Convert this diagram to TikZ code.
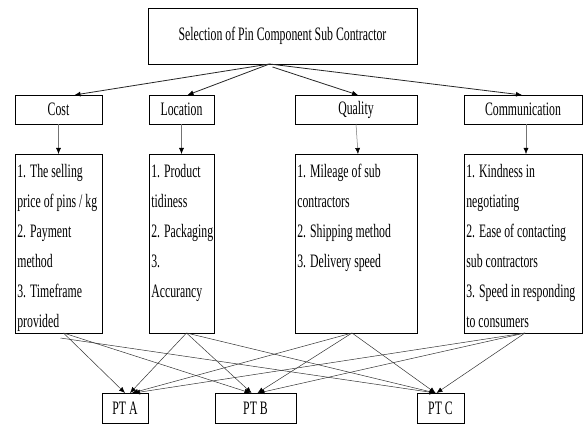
\documentclass[tikz,border=0pt]{standalone}
\usepackage{fontspec}
\setmainfont{Liberation Serif}[FakeStretch=0.62]
\usepackage{tikz}
\usetikzlibrary{arrows.meta}

\begin{document}
\begin{tikzpicture}[x=1pt,y=-1pt,line width=0.7pt]
    \tikzstyle{box}=[draw=black,rectangle,inner sep=0pt,outer sep=0pt,font=\fontsize{19}{22}\selectfont]
    \tikzstyle{criteria}=[box,minimum height=29pt]
    \tikzstyle{list}=[box,minimum height=179pt]
    \tikzstyle{listtext}=[anchor=north west,align=left,inner xsep=2pt,inner ysep=10pt,font=\fontsize{19}{30}\selectfont]
    \tikzstyle{alt}=[box,minimum height=30pt]
    \tikzstyle{top arrow}=[-{Latex[length=6pt,width=5pt,black]},line width=0.8pt,draw=black!85]
    \tikzstyle{down arrow}=[-{Latex[length=6pt,width=5pt,black]},line width=0.5pt,draw=black!55]
    \tikzstyle{alt arrow}=[-{Latex[length=6pt,width=5pt,black]},line width=0.5pt,draw=black!80]

    \useasboundingbox (0,0) rectangle (584,425);

    % Goal
    \node[box,minimum width=269pt,minimum height=56pt] (goal) at (282.5,36) {Selection of Pin Component Sub Contractor};

    % Criteria
    \node[criteria,minimum width=87pt] (cost) at (58.5,109.5) {Cost};
    \node[criteria,minimum width=65pt] (location) at (181.5,109.5) {Location};
    \node[criteria,minimum width=122pt] (quality) at (356,109.5) {Quality};
    \node[criteria,minimum width=118pt] (comm) at (523,109.5) {Communication};

    % Sub criteria
    \node[list,minimum width=87pt] (cost-list) at (58.5,243.5) {};
    \node[list,minimum width=65pt] (location-list) at (181.5,243.5) {};
    \node[list,minimum width=122pt] (quality-list) at (356,243.5) {};
    \node[list,minimum width=118pt] (comm-list) at (523,243.5) {};
    \node[listtext] (cost-text) at (cost-list.north west) {1. The selling\\price of pins / kg\\2. Payment\\method\\3. Timeframe\\provided};
    \node[listtext] (location-text) at (location-list.north west) {1. Product\\tidiness\\2. Packaging\\3.\\Accurancy};
    \node[listtext] (quality-text) at (quality-list.north west) {1. Mileage of sub\\contractors\\2. Shipping method\\3. Delivery speed};
    \node[listtext] (comm-text) at (comm-list.north west) {1. Kindness in\\negotiating\\2. Ease of contacting\\sub contractors\\3. Speed in responding\\to consumers};

    % Alternatives
    \node[alt,minimum width=46pt] (pta) at (125,408) {PT A};
    \node[alt,minimum width=81pt] (ptb) at (255.5,408) {PT B};
    \node[alt,minimum width=47pt] (ptc) at (440.5,408) {PT C};

    % Goal to criteria
    \path ([xshift=-13pt]goal.south) edge[top arrow] ([xshift=16pt]cost.north);
    \path ([xshift=-13pt]goal.south) edge[top arrow] ([xshift=6pt]location.north);
    \path ([xshift=-10pt,yshift=-3pt]goal.south) edge[top arrow] ([xshift=2pt]quality.north);
    \path ([xshift=-13pt]goal.south) edge[top arrow] ([xshift=-1pt]comm.north);

    % Criteria to sub criteria
    \path (cost.south) edge[down arrow] (cost-list.north);
    \path (location.south) edge[down arrow] (location-list.north);
    \path (quality.south) edge[down arrow] ([xshift=2pt]quality-list.north);
    \path ([xshift=3pt]comm.south) edge[down arrow] ([xshift=3pt]comm-list.north);

    % Sub criteria to alternatives
    \path ([xshift=5pt]cost-list.south) edge[alt arrow] ([xshift=0pt]pta.north);
    \path ([xshift=5pt]cost-list.south) edge[alt arrow] ([xshift=-5pt]ptb.north);
    \path ([shift={(2pt,-5pt)}]cost-list.south) edge[alt arrow] ([xshift=-5pt]ptc.north);
    \path ([xshift=5pt]location-list.south) edge[alt arrow] ([xshift=5pt]pta.north);
    \path ([xshift=5pt]location-list.south) edge[alt arrow] ([xshift=-4pt]ptb.north);
    \path ([xshift=5pt]location-list.south) edge[alt arrow] ([xshift=-5pt]ptc.north);
    \path ([xshift=-4pt]quality-list.south) edge[alt arrow] ([xshift=7pt]pta.north);
    \path ([xshift=-4pt]quality-list.south) edge[alt arrow] ([xshift=2pt]ptb.north);
    \path ([xshift=-4pt]quality-list.south) edge[alt arrow] ([xshift=-5pt]ptc.north);
    \path ([xshift=2pt]comm-list.south) edge[alt arrow] ([xshift=9pt]pta.north);
    \path ([xshift=2pt]comm-list.south) edge[alt arrow] ([xshift=3pt]ptb.north);
    \path ([xshift=2pt]comm-list.south) edge[alt arrow] ([xshift=-4pt]ptc.north);
\end{tikzpicture}
\end{document}
